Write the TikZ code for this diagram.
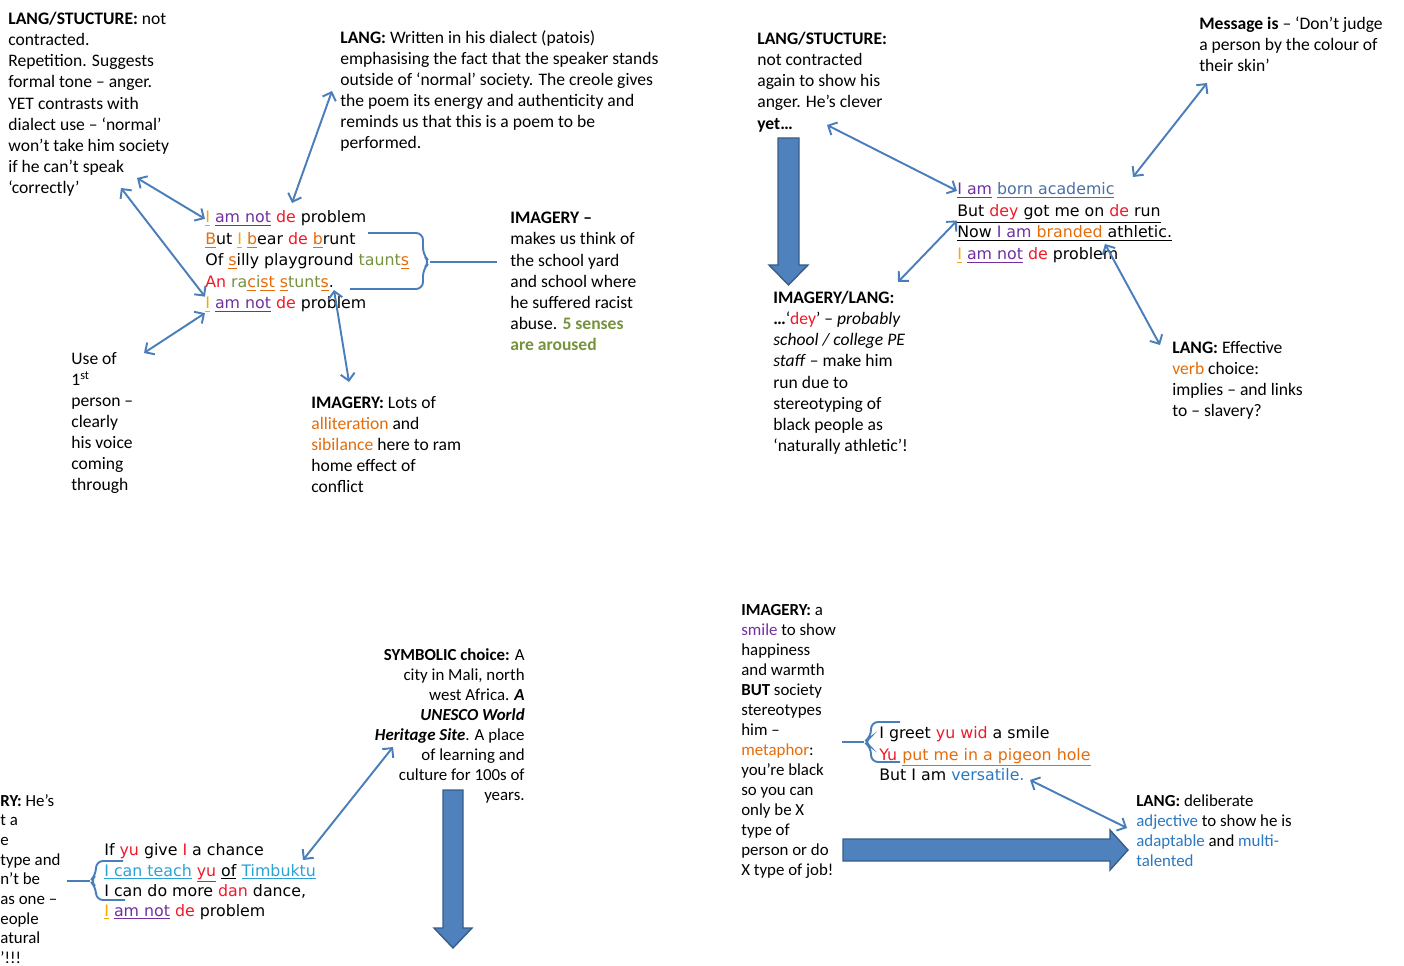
\documentclass[tikz,border=0pt]{standalone}
\usepackage{fontspec}
\setmainfont{Carlito}
\newfontfamily\poemfont{DejaVu Sans}
\usetikzlibrary{arrows.meta}

\definecolor{arrowblue}{HTML}{4A7EBB}
\definecolor{blockblue}{HTML}{4F81BD}
\definecolor{blockedge}{HTML}{385D8A}
\definecolor{poemred}{HTML}{F01828}
\definecolor{olivetxt}{HTML}{76923C}
\definecolor{orangetxt}{HTML}{E46C0A}
\definecolor{purpleul}{HTML}{7030A0}
\definecolor{goldul}{HTML}{F5A800}
\definecolor{cyantxt}{HTML}{2AA2D6}
\definecolor{bluetxt}{HTML}{2A78C2}
\definecolor{steeltxt}{HTML}{4A6FA5}

\newcommand{\ulc}[2]{\textcolor{#1}{\underline{#2}}}

\begin{document}
\begin{tikzpicture}[x=0.02cm, y=-0.02cm,
        note/.style={anchor=north west, inner sep=0pt, align=left, font=\fontsize{10}{12}\selectfont},
        notesm/.style={note, font=\fontsize{9.6}{11.4}\selectfont},
        poem/.style={anchor=base west, inner sep=0pt, font=\poemfont\fontsize{9}{11}\selectfont},
        arrow/.style={{Straight Barb[length=4pt,width=8pt]}-{Straight Barb[length=4pt,width=8pt]}, line width=1.1pt, draw=arrowblue},
        brace/.style={line width=1.1pt, draw=arrowblue, rounded corners=4pt},
        block/.style={fill=blockblue, draw=blockedge, line width=0.8pt}
    ]
        \useasboundingbox (0,0) rectangle (1404,966);

        % Poem: first verse
        \node[poem] (p1a) at (205,223) {\ulc{goldul}{I} \ulc{purpleul}{am not} \textcolor{poemred}{de} problem};
        \node[poem] (p1b) at (205,245) {\ulc{orangetxt}{B}ut \ulc{goldul}{I} \ulc{orangetxt}{b}ear \textcolor{poemred}{de} \ulc{orangetxt}{b}runt};
        \node[poem] (p1c) at (205,266) {Of \ulc{orangetxt}{s}illy playground \textcolor{olivetxt}{taunt\ulc{orangetxt}{s}}};
        \node[poem] (p1d) at (205,288) {\textcolor{poemred}{An} \textcolor{olivetxt}{ra\ulc{orangetxt}{c}i\ulc{orangetxt}{st}} \textcolor{olivetxt}{\ulc{orangetxt}{s}tunt\ulc{orangetxt}{s}}.};
        \node[poem] (p1e) at (205,309) {\ulc{goldul}{I} \ulc{purpleul}{am not} \textcolor{poemred}{de} problem};

        % Notes round the first verse
        \node[note] (lang1) at (8,12) {\textbf{LANG/STUCTURE:} not\\
            contracted.\\
            Repetition. Suggests\\
            formal tone – anger.\\
            YET contrasts with\\
            dialect use – ‘normal’\\
            won’t take him society\\
            if he can’t speak\\
            ‘correctly’};
        \node[note] (lang2) at (340,30) {\textbf{LANG:} Written in his dialect (patois)\\
            emphasising the fact that the speaker stands\\
            outside of ‘normal’ society. The creole gives\\
            the poem its energy and authenticity and\\
            reminds us that this is a poem to be\\
            performed.};
        \node[note] (imag1) at (510,212) {\textbf{IMAGERY –}\\
            makes us think of\\
            the school yard\\
            and school where\\
            he suffered racist\\
            abuse. \textcolor{olivetxt}{\textbf{5 senses}}\\
            \textcolor{olivetxt}{\textbf{are aroused}}};
        \node[note] (person) at (71,352) {Use of\\
            1\textsuperscript{st}\\
            person –\\
            clearly\\
            his voice\\
            coming\\
            through};
        \node[note] (imag2) at (311,396) {\textbf{IMAGERY:} Lots of\\
            \textcolor{orangetxt}{alliteration} and\\
            \textcolor{orangetxt}{sibilance} here to ram\\
            home effect of\\
            conflict};

        % Arrows of the first verse
        \coordinate (l1a) at (137,178);
        \coordinate (l1b) at (121,188);
        \coordinate (pe1) at (144,353);
        \coordinate (lg1) at (332,91);
        \coordinate (lg2) at (292,203);
        \coordinate (im1) at (334,290);
        \coordinate (im2) at (349,382);
        \draw[arrow] (l1a) -- (p1a.west);
        \draw[arrow] (l1b) -- (p1e.north west);
        \draw[arrow] (pe1) -- (p1e.south west);
        \draw[arrow] (lg2) -- (lg1);
        \draw[arrow] (im1) -- (im2);
        \draw[brace] (368,233) -- (423,233) -- (423,255) -- (430,262) -- (423,269) -- (423,289) -- (350,289);
        \coordinate (b1tip) at (430,262);
        \draw[brace] (b1tip) -- (497,262);

        % Poem: second verse
        \node[poem] (p2a) at (957,195) {\ulc{purpleul}{I am} \ulc{steeltxt}{born academic}};
        \node[poem] (p2b) at (957,217) {\underline{But \textcolor{poemred}{dey} got me on \textcolor{poemred}{de} run}};
        \node[poem] (p2c) at (957,238) {\underline{Now \textcolor{purpleul}{I am} \textcolor{orangetxt}{branded} athletic.}};
        \node[poem] (p2d) at (957,260) {\ulc{goldul}{I} \ulc{purpleul}{am not} \textcolor{poemred}{de} problem};

        % Notes round the second verse
        \node[note] (lang3) at (757,32) {\textbf{LANG/STUCTURE:}\\
            not contracted\\
            again to show his\\
            anger. He’s clever\\
            \textbf{yet…}};
        \node[note] (message) at (1199,16) {\textbf{Message is} – ‘Don’t judge\\
            a person by the colour of\\
            their skin’};
        \node[note] (imag3) at (773,291) {\textbf{IMAGERY/LANG:}\\
            \textbf{…}‘\textcolor{poemred}{dey}’ – \textit{probably}\\
            \textit{school / college PE}\\
            \textit{staff} – make him\\
            run due to\\
            stereotyping of\\
            black people as\\
            ‘naturally athletic’!};
        \node[note] (lang4) at (1172,341) {\textbf{LANG:} Effective\\
            \textcolor{orangetxt}{verb} choice:\\
            implies – and links\\
            to – slavery?};

        % Arrows of the second verse
        \coordinate (l3) at (827,125);
        \coordinate (i3) at (898,282);
        \coordinate (ms) at (1207,83);
        \coordinate (ms2) at (1133,177);
        \coordinate (br) at (1105,244);
        \coordinate (l4) at (1160,345);
        \draw[arrow] (l3) -- (p2a.west);
        \draw[arrow] (i3) -- ([yshift=2pt]p2b.south west);
        \draw[arrow] (ms2) -- (ms);
        \draw[arrow] (br) -- (l4);
        \draw[block] (778,138) -- (799,138) -- (799,265) -- (808,265) -- (788.5,285) -- (769,265) -- (778,265) -- cycle;

        % Poem: third verse
        \node[poem] (p3a) at (104,855) {If \textcolor{poemred}{yu} give \textcolor{poemred}{I} a chance};
        \node[poem] (p3b) at (104,876) {\ulc{cyantxt}{I can teach} \ulc{poemred}{yu} \underline{of} \ulc{cyantxt}{Timbuktu}};
        \node[poem] (p3c) at (104,896) {I can do more \textcolor{poemred}{dan} dance,};
        \node[poem] (p3d) at (104,916) {\ulc{goldul}{I} \ulc{purpleul}{am not} \textcolor{poemred}{de} problem};

        % Notes round the third verse
        \node[notesm] (symb) [anchor=north east, align=right] at (525,648) {\textbf{SYMBOLIC choice:} A\\
            city in Mali, north\\
            west Africa. \textbf{\textit{A}}\\
            \textbf{\textit{UNESCO World}}\\
            \textbf{\textit{Heritage Site}}. A place\\
            of learning and\\
            culture for 100s of\\
            years.};
        \node[notesm, font=\fontsize{9.6}{11.2}\selectfont] (imag5) at (0,794) {\textbf{RY:} He’s\\
            t a\\
            e\\
            type and\\
            n’t be\\
            as one –\\
            eople\\
            atural\\
            ’!!!};

        % Arrows of the third verse
        \coordinate (sy) at (393,747);
        \coordinate (tb) at (303,860);
        \draw[arrow] (tb) -- (sy);
        \draw[brace] (123,861) -- (96,861) -- (96,875) -- (90,881) -- (96,887) -- (96,900) -- (125,900);
        \coordinate (b3tip) at (90,881);
        \draw[brace] (b3tip) -- (67,881);
        \draw[block] (443,790) -- (463,790) -- (463,928) -- (472,928) -- (453,948) -- (434,928) -- (443,928) -- cycle;

        % Poem: fourth verse
        \node[poem] (p4a) at (879,738) {I greet \textcolor{poemred}{yu wid} a smile};
        \node[poem] (p4b) at (879,760) {\textcolor{poemred}{Yu} \ulc{orangetxt}{put me in a pigeon hole}};
        \node[poem] (p4c) at (879,780) {But I am \textcolor{bluetxt}{versatile.}};

        % Notes round the fourth verse
        \node[notesm] (imag4) at (741,604) {\textbf{IMAGERY:} a\\
            \textcolor{purpleul}{smile} to show\\
            happiness\\
            and warmth\\
            \textbf{BUT} society\\
            stereotypes\\
            him –\\
            \textcolor{orangetxt}{metaphor}:\\
            you’re black\\
            so you can\\
            only be X\\
            type of\\
            person or do\\
            X type of job!};
        \node[notesm] (lang5) at (1136,794) {\textbf{LANG:} deliberate\\
            \textcolor{bluetxt}{adjective} to show he is\\
            \textcolor{bluetxt}{adaptable} and \textcolor{bluetxt}{multi-}\\
            \textcolor{bluetxt}{talented}};

        % Arrows of the fourth verse
        \coordinate (vs) at (1030,780);
        \coordinate (l5) at (1127,828);
        \draw[arrow] (vs) -- (l5);
        \draw[brace] (900,722) -- (871,722) -- (871,737) -- (864,742) -- (871,747) -- (871,762) -- (900,762);
        \coordinate (b4tip) at (864,742);
        \draw[brace] (b4tip) -- (842,742);
        \draw[block] (843,839) -- (1110,839) -- (1110,830) -- (1128,850) -- (1110,870) -- (1110,861) -- (843,861) -- cycle;
    \end{tikzpicture}
\end{document}
